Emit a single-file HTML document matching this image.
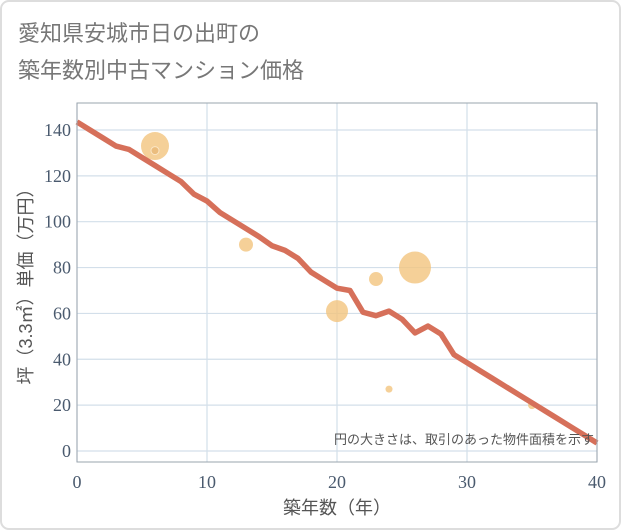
<!DOCTYPE html>
<html><head><meta charset="utf-8"><style>
body{margin:0;background:#fff;}
svg{display:block;font-family:"Liberation Sans","Noto Sans CJK JP",sans-serif;}
</style></head><body>
<svg id="chart" width="621" height="530" viewBox="0 0 621 530">
<rect x="1" y="1" width="619" height="528" rx="8" fill="#fff" stroke="#ddd" stroke-width="2"/>
<text x="18" y="41" font-size="22" fill="#777">愛知県安城市日の出町の</text>
<text x="18" y="78" font-size="22" fill="#777">築年数別中古マンション価格</text>
<g id="grid"></g>
<g id="bubbles"></g>
<g id="line"></g>
<rect x="77" y="103" width="520" height="359" fill="none" stroke="#9aa4ae" stroke-width="1"/>
<g id="ticks"></g>
<text x="594" y="444" font-size="13" fill="#555" text-anchor="end">円の大きさは、取引のあった物件面積を示す</text>
<text x="337" y="514" font-size="18" fill="#555" text-anchor="middle">築年数（年）</text>
<text transform="translate(32,282) rotate(-90)" font-size="18" fill="#555" text-anchor="middle">坪（3.3㎡）単価（万円）</text>
</svg>
<script>
const xTicks=[0,10,20,30,40];
const yTicks=[0,20,40,60,80,100,120,140];
const lineYears=[0,1,2,3,4,5,6,7,8,9,10,11,12,13,14,15,16,17,18,19,20,21,22,23,24,25,26,27,28,29,30,31,32,33,34,35,36,37,38,39,40];
const linePrices=[143.5,140,136.5,133,131.5,128,124.5,121,117.5,112,109,104,100.5,97,93.5,89.5,87.5,84,78,74.5,71,70,60.5,59,61,57.5,51.5,54.5,51,42,38.5,35,31.5,28,24.5,21,17.5,14,10.5,7,3.5];
const bubbleYears=[6,13,20,23,26,24,35,6];
const bubblePrices=[133,90,61,75,80,27,20,131];
const bubbleSizes=[14,7,11,7,16,3.5,4,4];
const NS="http://www.w3.org/2000/svg";
const X=v=>77+v*13;
const Y=v=>451-v*2.293;
function mk(tag,parent,attrs){const e=document.createElementNS(NS,tag);for(const k in attrs)e.setAttribute(k,attrs[k]);document.getElementById(parent).appendChild(e);return e;}
xTicks.forEach(t=>{
 const l=mk('line','grid',{x1:X(t),x2:X(t),y1:103,y2:462,stroke:'#d3dfea','stroke-width':1.2});
 
 
 const tx=mk('text','ticks',{x:X(t),y:488,'font-size':18,fill:'#4a5a6e','text-anchor':'middle','font-family':'Liberation Serif,serif'});
 tx.textContent=t;
 
 
});
yTicks.forEach(t=>{
 const l=mk('line','grid',{x1:77,x2:597,y1:Y(t),y2:Y(t),stroke:'#d3dfea','stroke-width':1.2});
 
 
 const tx=mk('text','ticks',{x:71,y:Y(t)+6,'font-size':18,fill:'#4a5a6e','text-anchor':'end','font-family':'Liberation Serif,serif'});
 tx.textContent=t;
 
 
});
bubbleYears.forEach((yr,i)=>{
 const c=mk('circle','bubbles',{cx:X(yr),cy:Y(bubblePrices[i]),r:bubbleSizes[i],fill:i===7?'#e8b878':'#f3c47e','fill-opacity':0.8,stroke:i===7?'#fbe6c6':'none'});
 
 
});
const pts=lineYears.map((yr,i)=>X(yr)+','+Y(linePrices[i])).join(' ');
const pl=mk('polyline','line',{points:pts,fill:'none',stroke:'#d6705a','stroke-width':5.5,'stroke-linejoin':'round'});


</script>
</body></html>
